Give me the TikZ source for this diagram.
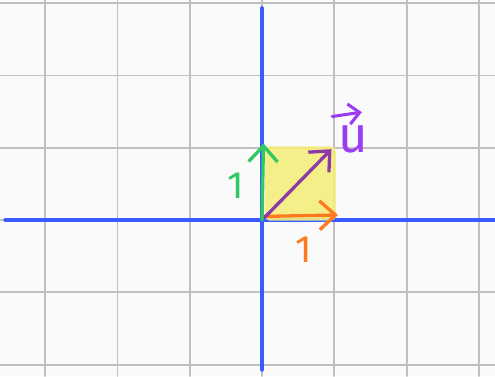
\documentclass[tikz,border=0pt]{standalone}
\usepackage{amsmath}
\usepackage{fontspec}
\setsansfont{Fira Sans}
\usetikzlibrary{arrows.meta,positioning}
\definecolor{axisblue}{HTML}{3A5BFF}
\definecolor{gridgray}{HTML}{C0C0C0}
\definecolor{hlyellow}{HTML}{F5EE7E}
\definecolor{vgreen}{HTML}{2FC864}
\definecolor{vorange}{HTML}{FF7A1F}
\definecolor{vpurple}{HTML}{8E3AA6}
\definecolor{lpurple}{HTML}{9B3CF5}
\begin{document}
\begin{tikzpicture}[>={Straight Barb[length=2.2mm,width=4mm]},line cap=round,line join=round,
  gridline/.style={gridgray,line width=0.7pt},
  axis/.style={axisblue,line width=1.6pt},
  vec/.style={->,line width=1.3pt},
  lbl/.style={font=\sffamily\fontsize{15}{15}\selectfont}]
\fill[white!98!black] (-3.624,-2.158) rectangle (3.222,3.043);
\useasboundingbox (-3.624,-2.158) rectangle (3.222,3.043);
\draw[gridline] (-3.624,-2.158) grid (3.222,3.043);
% axes
\coordinate (O) at (0,0);
\coordinate (xl) at (-3.55,0);
\coordinate (xr) at (3.222,0);
\coordinate (yb) at (0,-2.07);
\coordinate (yt) at (0,2.93);
\draw[axis] (xl) -- (xr);
\draw[axis] (yb) -- (yt);
% unit square
\fill[hlyellow,opacity=0.9,rounded corners=2pt] (0.04,-0.01) rectangle (1.02,1.02);
% vectors
\coordinate (ex) at (1.05,0.07);
\coordinate (ey) at (0.02,1.06);
\coordinate (ut) at (0.96,0.98);
\draw[vec,vorange] (0.02,0.05) -- (ex);
\draw[vec,vgreen] (O) -- (ey);
\draw[vec,vpurple] (0.04,0.04) -- (ut);
% labels
\node[lbl,vgreen] (onei) at (-0.36,0.48) {1};
\node[lbl,vorange] (onej) at (0.58,-0.41) {1};
\node[lbl,lpurple,font=\sffamily\fontsize{20}{20}\selectfont,inner sep=1pt] (ulbl) at (1.26,1.11) {u};
\draw[lpurple,line width=1.2pt,->,>={Straight Barb[length=1.5mm,width=2.8mm]}]
  ([shift={(-0.29,0.09)}]ulbl.north) -- ([shift={(0.12,0.15)}]ulbl.north);
\end{tikzpicture}
\end{document}
